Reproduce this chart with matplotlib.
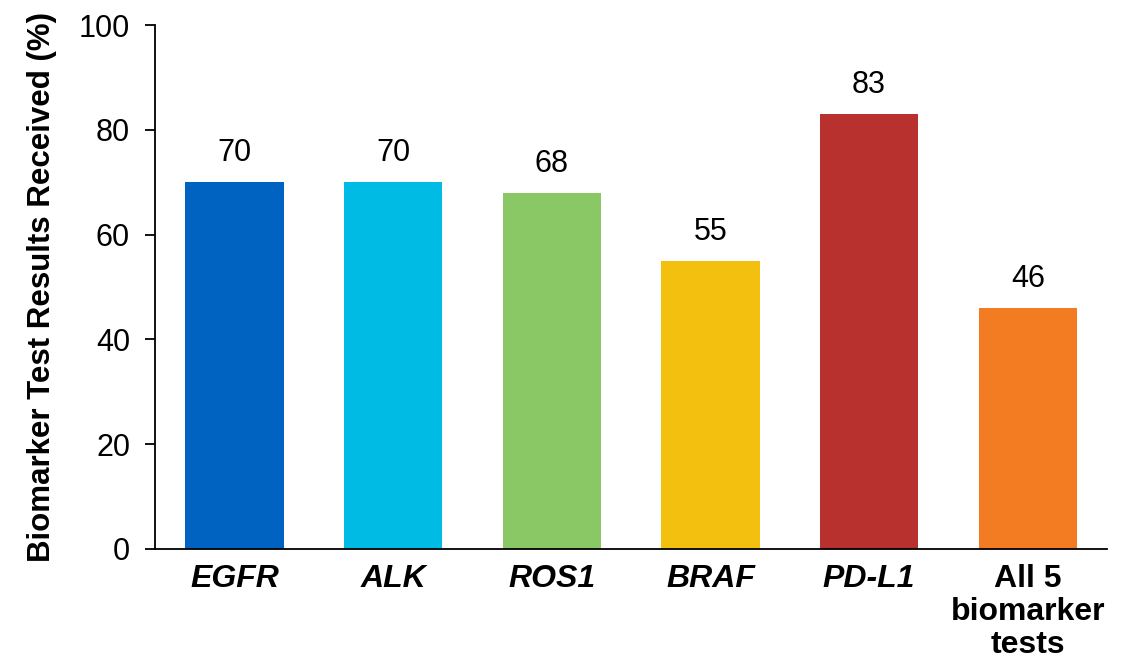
import matplotlib.pyplot as plt

plt.rcParams['font.family'] = ['Liberation Sans', 'DejaVu Sans']

# Data
categories = ['EGFR', 'ALK', 'ROS1', 'BRAF', 'PD-L1', 'All 5\nbiomarker\ntests']
values = [70, 70, 68, 55, 83, 46]
colors = ['#0063C1', '#00BCE4', '#8AC866', '#F3C00F', '#B8312F', '#F37B22']
italic = [True, True, True, True, True, False]

fig = plt.figure(figsize=(11.32, 6.62), dpi=100)
ax = fig.add_axes([0.137, 0.171, 0.841, 0.791])

x = list(range(len(categories)))
bars = ax.bar(x, values, width=0.62, color=colors)

for xi, v in zip(x, values):
    ax.annotate(str(v), (xi, v), xytext=(0, 10), textcoords='offset points',
                ha='center', va='bottom', fontsize=22)

ax.set_xlim(-0.5, 5.5)
ax.set_ylim(0, 100)
ax.set_yticks([0, 20, 40, 60, 80, 100])
ax.tick_params(axis='y', labelsize=22, length=7, width=1.3, direction='out', pad=11)
ax.tick_params(axis='x', length=0, pad=11)
ax.set_xticks(x)
ax.set_xticklabels(categories)
for lbl, it in zip(ax.get_xticklabels(), italic):
    lbl.set_fontsize(23)
    lbl.set_fontweight('bold')
    lbl.set_fontstyle('italic' if it else 'normal')
    lbl.set_linespacing(1.13)

ax.set_ylabel('Biomarker Test Results Received (%)', fontsize=22.5,
              fontweight='bold', labelpad=16)

ax.spines['top'].set_visible(False)
ax.spines['right'].set_visible(False)
ax.spines['left'].set_linewidth(1.3)
ax.spines['bottom'].set_linewidth(1.3)

fig.savefig('out.png', dpi=100)
